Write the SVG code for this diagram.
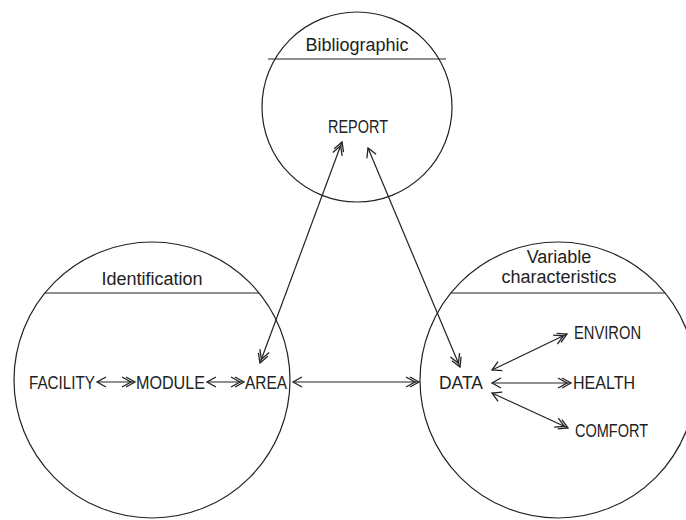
<svg xmlns="http://www.w3.org/2000/svg" width="686" height="520" viewBox="0 0 686 520">
<style>
.c{fill:none;stroke:#222;stroke-width:1.2}
.d{stroke:#222;stroke-width:1.2}
.t{font-family:"Liberation Sans",Arial,sans-serif;font-size:18px;fill:#222;text-anchor:middle}
.l{font-family:"Liberation Sans",Arial,sans-serif;font-size:17.5px;fill:#222}
.a{fill:none;stroke:#222;stroke-width:1.2}
</style>
<defs>
<marker id="s" markerUnits="userSpaceOnUse" markerWidth="20" markerHeight="20" refX="0" refY="0" orient="auto-start-reverse" style="overflow:visible">
<path d="M-9,-5 L0,0 L-9,5" fill="none" stroke="#222" stroke-width="1.3"/>
</marker>
<marker id="d" markerUnits="userSpaceOnUse" markerWidth="20" markerHeight="20" refX="0" refY="0" orient="auto-start-reverse" style="overflow:visible">
<path d="M-9,-5 L0,0 L-9,5 M-13,-5 L-4,0 L-13,5" fill="none" stroke="#222" stroke-width="1.3"/>
</marker>
</defs>
<rect width="686" height="520" fill="#fff"/>
<g id="bibliographic">
<circle class="c" cx="357" cy="107" r="95"/>
<line class="d" x1="268" y1="59" x2="446" y2="59"/>
<text class="t" x="357" y="51">Bibliographic</text>
<text class="l" x="328" y="133" textLength="60" lengthAdjust="spacingAndGlyphs">REPORT</text>
</g>
<g id="identification">
<circle class="c" cx="152" cy="380" r="138"/>
<line class="d" x1="45" y1="293" x2="259" y2="293"/>
<text class="t" x="152" y="285">Identification</text>
<text class="l" x="29" y="389" textLength="66" lengthAdjust="spacingAndGlyphs">FACILITY</text>
<text class="l" x="136" y="389" textLength="69" lengthAdjust="spacingAndGlyphs">MODULE</text>
<text class="l" x="245" y="389" textLength="42" lengthAdjust="spacingAndGlyphs">AREA</text>
</g>
<g id="variable">
<circle class="c" cx="558" cy="380" r="138"/>
<line class="d" x1="451" y1="293" x2="665" y2="293"/>
<text class="t" x="559" y="263">Variable</text>
<text class="t" x="559" y="283">characteristics</text>
<text class="l" x="439" y="389" textLength="44" lengthAdjust="spacingAndGlyphs">DATA</text>
<text class="l" x="574" y="339" textLength="67" lengthAdjust="spacingAndGlyphs">ENVIRON</text>
<text class="l" x="573" y="389" textLength="62" lengthAdjust="spacingAndGlyphs">HEALTH</text>
<text class="l" x="575" y="437" textLength="73" lengthAdjust="spacingAndGlyphs">COMFORT</text>
</g>
<g id="connectors">
<line class="a" x1="97" y1="382" x2="135" y2="382" marker-start="url(#s)" marker-end="url(#d)"/>
<line class="a" x1="207" y1="382" x2="244" y2="382" marker-start="url(#s)" marker-end="url(#d)"/>
<line class="a" x1="293" y1="382" x2="419" y2="382" marker-start="url(#s)" marker-end="url(#d)"/>
<line class="a" x1="342" y1="142" x2="260" y2="363" marker-start="url(#d)" marker-end="url(#d)"/>
<line class="a" x1="368" y1="148" x2="460" y2="367" marker-start="url(#s)" marker-end="url(#d)"/>
<line class="a" x1="492" y1="370" x2="567" y2="334" marker-start="url(#s)" marker-end="url(#d)"/>
<line class="a" x1="492" y1="383" x2="571" y2="383" marker-start="url(#s)" marker-end="url(#d)"/>
<line class="a" x1="492" y1="393" x2="568" y2="428" marker-start="url(#s)" marker-end="url(#d)"/>
</g>
</svg>
